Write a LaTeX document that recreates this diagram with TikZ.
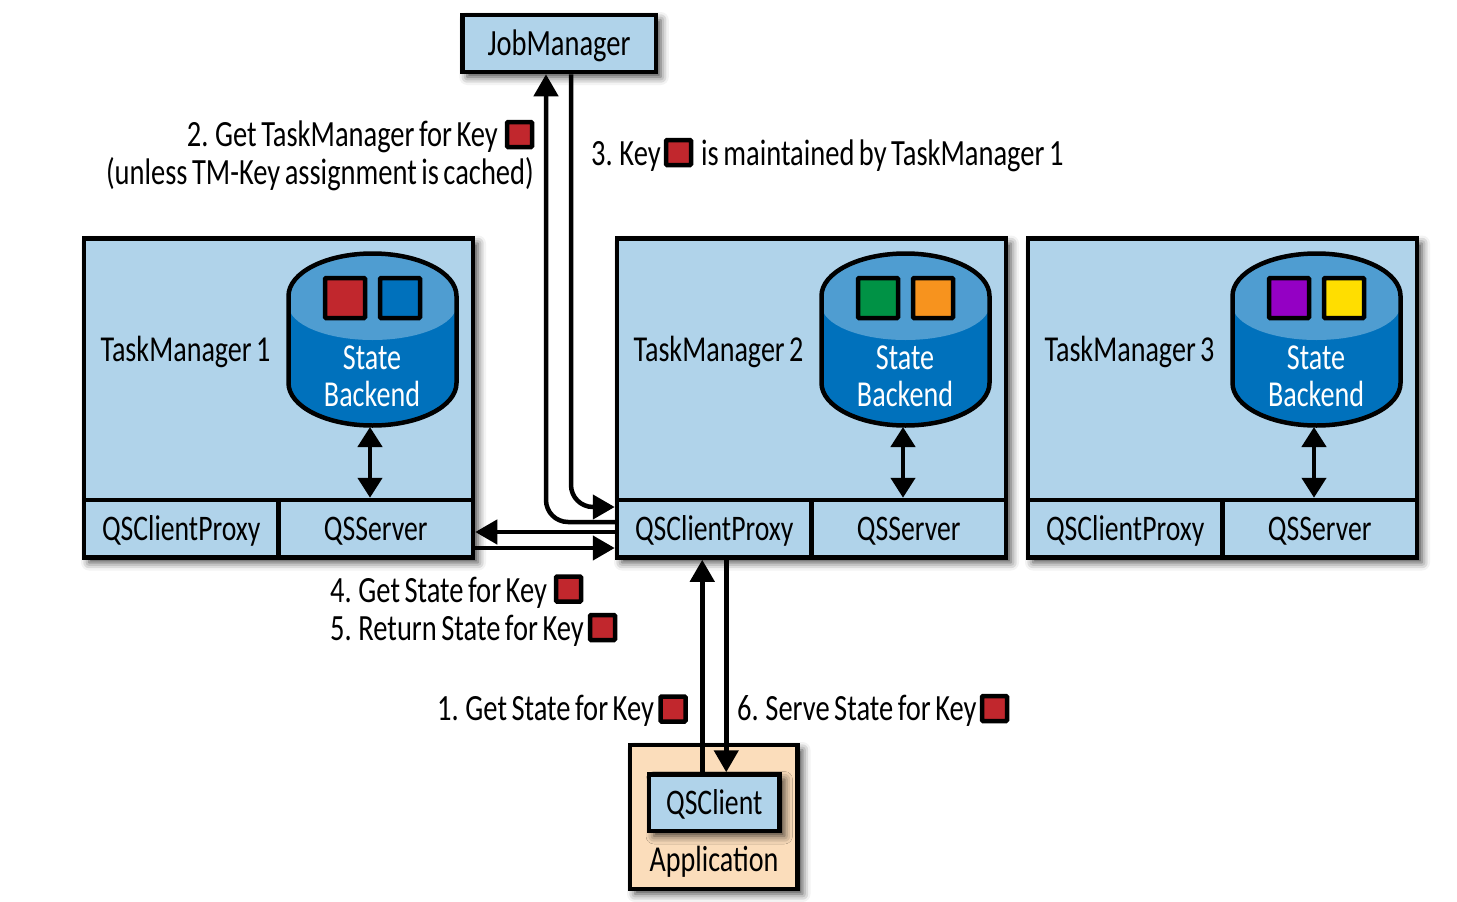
\documentclass[tikz,border=0pt]{standalone}
\usepackage{fontspec}
\setmainfont[FakeStretch=0.77,WordSpace=0.7]{Carlito}
\usepackage{tikz}
\usetikzlibrary{arrows.meta,shadows.blur}

\definecolor{panelblue}{HTML}{B0D3EA}
\definecolor{appsand}{HTML}{FBDDBB}
\definecolor{dbdark}{HTML}{0071BC}
\definecolor{dblight}{HTML}{4F9DD1}
\definecolor{keyred}{HTML}{C1272D}
\definecolor{keygreen}{HTML}{009245}
\definecolor{keyorange}{HTML}{F7931E}
\definecolor{keypurple}{HTML}{9400C4}
\definecolor{keyyellow}{HTML}{FFDE00}

\tikzset{
    softshadow/.style={blur shadow={shadow xshift=5pt,shadow yshift=-5pt,shadow blur radius=8pt,shadow opacity=75}},
    box/.style={draw=black,line width=4.5pt,fill=panelblue,inner sep=0pt,text height=27pt,text depth=4pt,font=\fontsize{36}{40}\selectfont},
    txt/.style={inner sep=0pt,font=\fontsize{37}{40}\selectfont},
    midtxt/.style={inner sep=0pt,font=\fontsize{36.5}{40}\selectfont},
    keybox/.style={draw=black,line width=4.5pt,fill=keyred,minimum size=25pt,inner sep=0pt,rounded corners=1pt},
    flow/.style={-{Triangle[length=22pt,width=24pt]},line width=4.5pt,black},
    both/.style={{Triangle[length=20pt,width=24pt]}-{Triangle[length=20pt,width=24pt]},line width=4.5pt,black},
    backend/.pic={
        \fill[dbdark] (288.5,296) arc (180:0:84pt and 42.5pt) -- (456.5,383) arc (0:-180:84pt and 42.5pt) -- cycle;
        \fill[dblight] (288.5,296) arc (180:0:84pt and 42.5pt) -- (456.5,305) arc (0:-180:84pt and 35pt) -- cycle;
        \draw[line width=4.5pt] (288.5,296) arc (180:0:84pt and 42.5pt) -- (456.5,383) arc (0:-180:84pt and 42.5pt) -- cycle;
        \node[midtxt,white,anchor=base] (state) at (372,369) {State};
        \node[midtxt,white,anchor=base] (name) at (372,406) {Backend};
        \coordinate (bottom) at (370,427);
    },
}

\begin{document}
\begin{tikzpicture}[x=1pt,y=-1pt]
    \useasboundingbox (0,0) rectangle (1457,902);

    \node[box,softshadow,font=\fontsize{37}{40}\selectfont,minimum width=193.5pt,minimum height=57pt] (jobmanager) at (559,43.5) {JobManager};

    % the three task managers
    \node[box,softshadow,minimum width=389pt,minimum height=319pt] (tm1) at (278.5,398) {};
    \node[box,minimum width=194.5pt,minimum height=57.5pt] (proxy1) at (181.25,528.75) {QSClientProxy};
    \node[box,minimum width=194.5pt,minimum height=57.5pt] (server1) at (375.75,528.75) {QSServer};
    \node[midtxt,anchor=base] (tmlabel1) at (185.5,361) {TaskManager 1};
    \pic (db1) at (0,0) {backend};
    \node[keybox,minimum size=40pt] (k1a) at (345,298) {};
    \node[keybox,minimum size=40pt,fill=dbdark] (k1b) at (400,298) {};

    \node[box,softshadow,minimum width=389pt,minimum height=319pt] (tm2) at (811.5,398) {};
    \node[box,minimum width=194.5pt,minimum height=57.5pt] (proxy2) at (714.25,528.75) {QSClientProxy};
    \node[box,minimum width=194.5pt,minimum height=57.5pt] (server2) at (908.75,528.75) {QSServer};
    \node[midtxt,anchor=base] (tmlabel2) at (718.5,361) {TaskManager 2};
    \pic (db2) at (533,0) {backend};
    \node[keybox,minimum size=40pt,fill=keygreen] (k2a) at (878,298) {};
    \node[keybox,minimum size=40pt,fill=keyorange] (k2b) at (933,298) {};

    \node[box,softshadow,minimum width=389pt,minimum height=319pt] (tm3) at (1222.5,398) {};
    \node[box,minimum width=194.5pt,minimum height=57.5pt] (proxy3) at (1125.25,528.75) {QSClientProxy};
    \node[box,minimum width=194.5pt,minimum height=57.5pt] (server3) at (1319.75,528.75) {QSServer};
    \node[midtxt,anchor=base] (tmlabel3) at (1129.5,361) {TaskManager 3};
    \pic (db3) at (944,0) {backend};
    \node[keybox,minimum size=40pt,fill=keypurple] (k3a) at (1289,298) {};
    \node[keybox,minimum size=40pt,fill=keyyellow] (k3b) at (1344,298) {};

    \draw[both] (db1bottom) -- (db1bottom |- server1.north);
    \draw[both] (db2bottom) -- (db2bottom |- server2.north);
    \draw[both] (db3bottom) -- (db3bottom |- server3.north);

    % application
    \node[box,softshadow,fill=appsand,minimum width=167.5pt,minimum height=144pt] (app) at (713.75,817) {};
    \node[box,softshadow,minimum width=130.5pt,minimum height=56.5pt] (qsclient) at (714.25,802.75) {QSClient};
    \node[midtxt,anchor=base] (applabel) at (714,871) {Application};

    % request path
    \draw[flow] ([xshift=-12pt]qsclient.north) -- ([xshift=-12pt]proxy2.south);
    \draw[flow,rounded corners=22pt] ([yshift=6.75pt]proxy2.west) -| ([xshift=-13pt]jobmanager.south);
    \draw[flow,rounded corners=22pt] ([xshift=12pt]jobmanager.south) |- ([yshift=21.75pt]proxy2.west);
    \draw[flow] ([yshift=-3.25pt]proxy2.west) -- ([yshift=-3.25pt]server1.east);
    \draw[flow] ([yshift=-19.25pt]server1.east) -- ([yshift=-19.25pt]proxy2.west);
    \draw[flow] ([xshift=12pt]proxy2.south) -- ([xshift=12pt]qsclient.north);

    % step labels
    \node[txt,anchor=base east] (step2a) at (498,146) {2. Get TaskManager for Key};
    \node[keybox] (key2) at (519.5,134.5) {};
    \node[txt,anchor=base east] (step2b) at (534,184) {(unless TM-Key assignment is cached)};
    \node[txt,anchor=base west] (step3a) at (591,165) {3. Key};
    \node[keybox] (key3) at (678.5,152.5) {};
    \node[txt,anchor=base west] (step3b) at (701,165) {is maintained by TaskManager 1};
    \node[txt,anchor=base west] (step4) at (330,602) {4. Get State for Key};
    \node[keybox] (key4) at (568.5,589) {};
    \node[txt,anchor=base west] (step5) at (330,640) {5. Return State for Key};
    \node[keybox] (key5) at (602.5,627.5) {};
    \node[txt,anchor=base west] (step1) at (437,720) {1. Get State for Key};
    \node[keybox] (key1) at (673,709) {};
    \node[txt,anchor=base west] (step6) at (737,720) {6. Serve State for Key};
    \node[keybox] (key6) at (994.5,708.5) {};
\end{tikzpicture}
\end{document}
